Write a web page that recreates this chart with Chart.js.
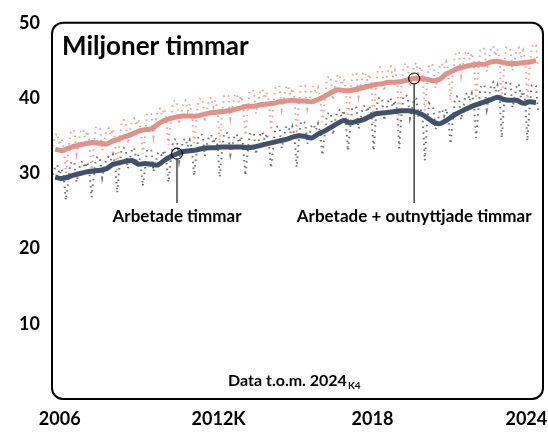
<!DOCTYPE html>
<html>
<head>
<meta charset="utf-8">
<script src="https://cdn.jsdelivr.net/npm/chart.js@4.4.1/dist/chart.umd.min.js"></script>
<style>
  html, body { margin: 0; padding: 0; background: #fff; }
  #wrap { width: 548px; height: 434px; }
</style>
</head>
<body>
<div id="wrap"><canvas id="myChart"></canvas></div>
<script>
// Years shown (monthly raw data, quarterly trend)
const years = [2006, 2007, 2008, 2009, 2010, 2011, 2012, 2013, 2014, 2015,
               2016, 2017, 2018, 2019, 2020, 2021, 2022, 2023, 2024];

// Arbetade timmar, monthly, one row per year
const arbetadeManad = [
    [29.8, 30.9, 31.1, 29.8, 30.6, 29.5, 26.4, 28.7, 31.2, 31.6, 31.4, 28.8],
    [30.3, 31.4, 31.6, 30.7, 31.5, 30.3, 26.8, 29.5, 32.0, 32.2, 32.0, 29.4],
    [30.9, 32.0, 32.2, 31.7, 32.5, 31.3, 27.4, 30.6, 33.1, 33.4, 33.2, 30.6],
    [32.0, 33.2, 33.4, 31.7, 32.5, 31.3, 28.3, 30.5, 33.1, 33.2, 33.0, 30.2],
    [31.4, 32.6, 32.8, 32.2, 33.1, 31.8, 28.8, 31.4, 34.0, 34.5, 34.4, 31.6],
    [33.2, 34.4, 34.6, 33.5, 34.4, 33.2, 29.7, 32.3, 34.9, 35.2, 35.1, 32.3],
    [33.7, 34.9, 35.1, 33.9, 34.8, 33.6, 29.5, 32.7, 35.3, 35.4, 35.3, 32.5],
    [33.8, 35.0, 35.2, 34.0, 34.9, 33.7, 29.7, 32.6, 35.2, 35.4, 35.3, 32.5],
    [34.0, 35.3, 35.5, 34.4, 35.3, 34.1, 30.7, 33.3, 36.0, 36.2, 36.1, 33.3],
    [34.8, 36.1, 36.3, 35.3, 36.2, 35.0, 30.8, 34.2, 36.9, 36.9, 36.7, 33.9],
    [35.0, 36.3, 36.5, 35.7, 36.6, 35.4, 32.4, 34.8, 37.5, 38.1, 37.9, 35.1],
    [36.9, 38.2, 38.4, 37.5, 38.4, 37.2, 33.0, 35.9, 38.6, 38.9, 38.7, 35.9],
    [37.4, 38.8, 39.0, 38.1, 39.0, 37.7, 33.0, 37.1, 39.9, 40.1, 39.9, 37.0],
    [38.4, 39.8, 40.0, 38.8, 39.7, 38.4, 33.3, 37.5, 40.3, 40.4, 40.2, 37.3],
    [38.5, 39.9, 39.9, 37.5, 38.6, 37.2, 31.7, 36.5, 39.3, 38.9, 38.6, 35.8],
    [36.9, 38.3, 38.5, 37.6, 38.6, 37.2, 33.9, 36.8, 39.6, 40.2, 40.0, 37.1],
    [38.8, 40.4, 40.7, 39.6, 40.6, 39.1, 34.7, 38.3, 41.4, 41.8, 41.6, 38.5],
    [40.1, 41.8, 42.1, 40.8, 41.7, 40.3, 34.7, 38.9, 42.0, 42.2, 42.0, 38.7],
    [40.0, 41.7, 41.9, 40.0, 40.9, 39.5, 34.3, 38.6, 41.7, 41.8, 41.6, 38.4]
];

// Arbetade + outnyttjade timmar, monthly
const outnyttjadeManad = [
    [33.6, 35.0, 35.3, 33.7, 34.6, 33.3, 30.0, 32.5, 35.3, 35.8, 35.6, 32.6],
    [34.2, 35.6, 35.9, 34.7, 35.6, 34.3, 30.4, 33.3, 36.1, 36.2, 36.0, 33.0],
    [34.3, 35.7, 36.0, 35.0, 35.9, 34.6, 30.4, 33.8, 36.6, 37.1, 36.9, 33.9],
    [35.6, 37.0, 37.3, 36.3, 37.2, 35.9, 32.5, 35.0, 37.8, 38.1, 37.9, 34.9],
    [36.9, 38.3, 38.6, 37.7, 38.6, 37.3, 33.7, 36.5, 39.3, 39.7, 39.5, 36.5],
    [38.0, 39.4, 39.7, 38.3, 39.2, 37.9, 34.0, 36.8, 39.6, 40.0, 39.8, 36.8],
    [38.4, 39.8, 40.1, 38.8, 39.7, 38.4, 34.0, 37.4, 40.2, 40.5, 40.3, 37.3],
    [38.9, 40.3, 40.6, 39.4, 40.3, 39.0, 35.0, 38.1, 40.9, 41.1, 40.9, 37.9],
    [39.5, 40.9, 41.2, 39.9, 40.8, 39.5, 35.7, 38.5, 41.3, 41.7, 41.5, 38.5],
    [40.0, 41.4, 41.7, 40.4, 41.3, 40.0, 35.2, 38.8, 41.6, 41.8, 41.6, 38.6],
    [39.9, 41.3, 41.6, 40.5, 41.4, 40.1, 36.8, 39.4, 42.2, 42.9, 42.7, 39.7],
    [41.5, 42.9, 43.2, 41.7, 42.6, 41.3, 37.1, 40.2, 43.0, 43.4, 43.2, 40.2],
    [41.8, 43.2, 43.5, 42.3, 43.2, 41.9, 36.7, 41.0, 43.8, 44.1, 43.9, 40.9],
    [42.5, 43.9, 44.2, 42.8, 43.7, 42.4, 37.0, 41.4, 44.2, 44.6, 44.4, 41.4],
    [43.0, 44.4, 44.7, 43.3, 44.2, 42.9, 38.3, 41.7, 44.5, 44.5, 44.3, 41.3],
    [42.9, 44.3, 44.6, 43.9, 44.8, 43.5, 39.7, 42.8, 45.6, 46.2, 46.0, 43.0],
    [44.6, 46.0, 46.3, 45.1, 46.0, 44.7, 39.9, 43.7, 46.5, 46.7, 46.5, 43.5],
    [45.2, 46.6, 46.9, 45.6, 46.5, 45.2, 39.4, 43.9, 46.7, 46.8, 46.6, 43.6],
    [45.0, 46.4, 46.7, 45.4, 46.3, 45.0, 39.5, 44.0, 46.8, 47.2, 47.0, 44.0]
];

// Trend (seasonally adjusted), quarterly, one row per year
const arbetadeTrend = [
    [29.5, 29.3, 29.5, 29.8], [30.0, 30.2, 30.3, 30.4], [30.6, 31.2, 31.4, 31.6],
    [31.7, 31.2, 31.3, 31.2], [31.1, 31.7, 32.2, 32.6], [32.9, 33.0, 33.1, 33.3],
    [33.4, 33.4, 33.5, 33.5], [33.5, 33.5, 33.4, 33.5], [33.7, 33.9, 34.1, 34.3],
    [34.5, 34.8, 35.0, 34.9], [34.7, 35.2, 35.6, 36.1], [36.6, 37.0, 36.7, 36.9],
    [37.1, 37.5, 37.9, 38.0], [38.1, 38.2, 38.3, 38.3], [38.2, 37.9, 37.4, 36.8],
    [36.6, 37.0, 37.6, 38.1], [38.5, 38.9, 39.2, 39.5], [39.8, 40.1, 39.8, 39.7],
    [39.7, 39.3, 39.5, 39.4]
];

const outnyttjadeTrend = [
    [33.2, 33.0, 33.3, 33.6], [33.8, 34.0, 34.1, 34.0], [33.9, 34.3, 34.6, 34.9],
    [35.2, 35.6, 35.8, 35.9], [36.5, 37.0, 37.3, 37.5], [37.6, 37.6, 37.6, 37.8],
    [38.0, 38.1, 38.2, 38.3], [38.5, 38.7, 38.9, 38.9], [39.1, 39.2, 39.3, 39.5],
    [39.6, 39.7, 39.6, 39.6], [39.5, 39.8, 40.2, 40.7], [41.1, 41.0, 41.0, 41.2],
    [41.4, 41.6, 41.8, 41.9], [42.1, 42.1, 42.2, 42.4], [42.6, 42.6, 42.5, 42.3],
    [42.5, 43.2, 43.6, 44.0], [44.2, 44.4, 44.5, 44.5], [44.8, 44.9, 44.7, 44.6],
    [44.6, 44.7, 44.8, 45.0]
];

// x axis labels and where they sit (in years)
const xTickLabels = ['2006', '2012K', '2018', '2024'];
const xTickValues = [2006.3, 2012.5, 2018.5, 2024.5];
const yTicks = [10, 20, 30, 40, 50];

// Annotated points: year, quarter index, label
const annArbetade = { year: 2010, q: 3, text: 'Arbetade timmar' };
const annOutnyttjade = { year: 2020, q: 0, text: 'Arbetade + outnyttjade timmar' };

const FONT = 'Lato, "Open Sans", sans-serif';

function monthlyPoints(rows) {
    const pts = [];
    rows.forEach((row, i) => {
        row.forEach((v, m) => pts.push({ x: years[i] + (m + 0.5) / 12, y: v }));
    });
    return pts;
}

function quarterlyPoints(rows) {
    const pts = [];
    rows.forEach((row, i) => {
        row.forEach((v, q) => pts.push({ x: years[i] + (q + 0.5) / 4, y: v }));
    });
    return pts;
}

const pinkLine = 'rgb(224, 146, 138)';
const blueLine = 'rgb(66, 80, 106)';

// frame, title, x labels and annotations
const decorPlugin = {
    id: 'decor',
    afterDatasetsDraw(chart) {
        const ctx = chart.ctx;
        const a = chart.chartArea;
        const xs = chart.scales.x, ys = chart.scales.y;
        ctx.save();

        // rounded frame
        ctx.strokeStyle = '#000';
        ctx.lineWidth = 2;
        ctx.beginPath();
        ctx.roundRect(a.left, a.top, a.right - a.left, a.bottom - a.top, 11);
        ctx.stroke();

        // title
        ctx.fillStyle = '#000';
        ctx.font = 'bold 26px ' + FONT;
        ctx.textAlign = 'left';
        ctx.textBaseline = 'alphabetic';
        ctx.fillText('Miljoner timmar', a.left + 10, a.top + 32);

        // x tick labels (drawn here so they don't squeeze the scale)
        ctx.font = 'bold 18px ' + FONT;
        ctx.textAlign = 'center';
        xTickValues.forEach((v, i) => {
            ctx.fillText(xTickLabels[i], xs.getPixelForValue(v), 425);
        });

        // annotations
        const anns = [
            [annArbetade, arbetadeTrend],
            [annOutnyttjade, outnyttjadeTrend]
        ];
        ctx.font = 'bold 17px ' + FONT;
        anns.forEach(([ann, rows]) => {
            const v = rows[years.indexOf(ann.year)][ann.q];
            const px = xs.getPixelForValue(ann.year + (ann.q + 0.5) / 4);
            const py = ys.getPixelForValue(v);
            ctx.strokeStyle = '#000';
            ctx.lineWidth = 1.2;
            ctx.beginPath();
            ctx.arc(px, py, 5.5, 0, Math.PI * 2);
            ctx.stroke();
            ctx.strokeStyle = '#444';
            ctx.lineWidth = 1.5;
            ctx.beginPath();
            ctx.moveTo(px, py + 5.5);
            ctx.lineTo(px, 203);
            ctx.stroke();
            ctx.fillText(ann.text, px, 222);
        });

        // data note with subscript
        const main = 'Data t.o.m. 2024';
        const sub = 'K4';
        ctx.font = 'bold 16px ' + FONT;
        const w1 = ctx.measureText(main).width;
        const x0 = 228;
        ctx.textAlign = 'left';
        ctx.fillText(main, x0, 386);
        ctx.font = 'bold 10px ' + FONT;
        ctx.fillText(sub, x0 + w1 + 1, 389);

        ctx.restore();
    }
};

const ctx = document.getElementById('myChart').getContext('2d');
const myChart = new Chart(ctx, {
    type: 'line',
    data: {
        datasets: [
            {
                label: 'Arbetade timmar',
                data: quarterlyPoints(arbetadeTrend),
                borderColor: blueLine,
                borderWidth: 5,
                pointRadius: 0,
                tension: 0.25,
                order: 1
            },
            {
                label: 'Arbetade + outnyttjade timmar',
                data: quarterlyPoints(outnyttjadeTrend),
                borderColor: pinkLine,
                borderWidth: 5,
                pointRadius: 0,
                tension: 0.25,
                order: 1
            },
            {
                label: 'Arbetade timmar, månad',
                data: monthlyPoints(arbetadeManad),
                borderColor: 'rgb(112, 112, 117)',
                borderWidth: 2,
                borderDash: [1.5, 4.2],
                pointRadius: 0,
                order: 2
            },
            {
                label: 'Arbetade + outnyttjade, månad',
                data: monthlyPoints(outnyttjadeManad),
                borderColor: 'rgb(234, 164, 158)',
                borderWidth: 2,
                borderDash: [1.5, 4.2],
                pointRadius: 0,
                order: 2
            }
        ]
    },
    options: {
        responsive: true,
        maintainAspectRatio: false,
        animation: false,
        layout: { padding: { top: 21, right: 5, left: 0, bottom: 0 } },
        plugins: {
            legend: { display: false },
            tooltip: { enabled: false }
        },
        scales: {
            x: {
                type: 'linear',
                min: 2006,
                max: 2025.15,
                grid: { display: false, drawTicks: false },
                border: { display: false },
                ticks: { display: false },
                afterFit: s => { s.height = 35; }
            },
            y: {
                min: 0,
                max: 50,
                grid: { display: false, drawTicks: false },
                border: { display: false },
                afterFit: s => { s.width = 52; },
                afterBuildTicks: s => { s.ticks = yTicks.map(v => ({ value: v })); },
                ticks: {
                    padding: 12,
                    color: '#000',
                    font: { family: FONT, size: 18, weight: 'bold' }
                }
            }
        }
    },
    plugins: [decorPlugin]
});
</script>
</body>
</html>
